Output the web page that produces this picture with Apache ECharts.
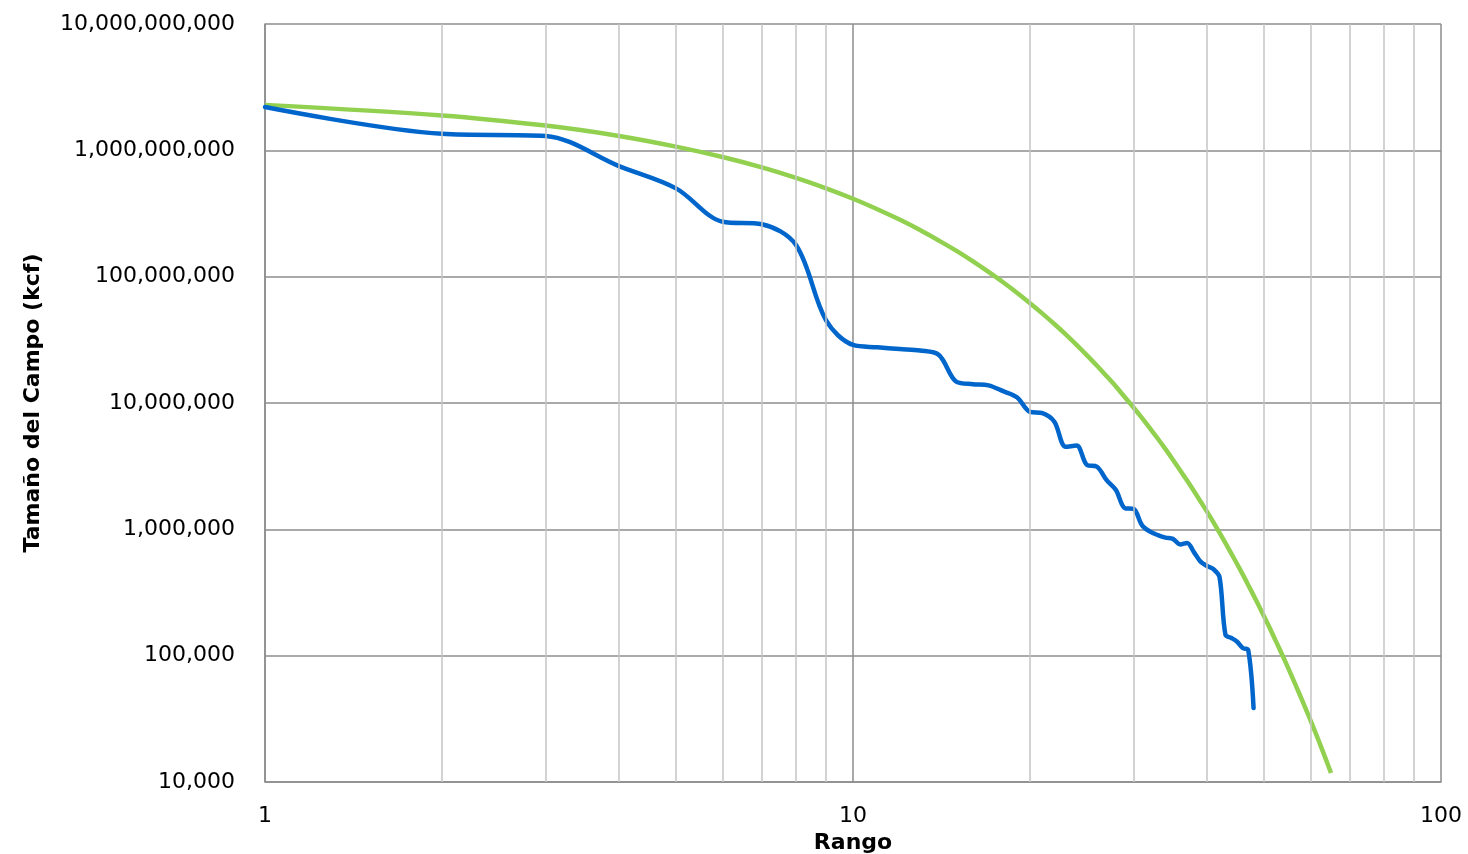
<!DOCTYPE html>
<html>
<head>
<meta charset="utf-8">
<script src="https://cdn.jsdelivr.net/npm/echarts@6/dist/echarts.min.js"></script>
<style>
html,body{margin:0;padding:0;background:#fff;}
#chart{width:1468px;height:854px;}
</style>
</head>
<body>
<div id="chart"></div>
<script>
// Observed field sizes (kcf) by rank
const observedRanks = [1,2,3,4,5,6,7,8,9,10,11,12,13,14,15,16,17,18,19,20,21,22,23,24,25,26,27,28,29,30,31,32,33,34,35,36,37,38,39,40,41,42,43,44,45,46,47,48];
const observedSizes = [2.2e9,1.35e9,1.3e9,7.5e8,5.0e8,2.72e8,2.6e8,1.78e8,4.5e7,2.88e7,2.76e7,2.67e7,2.6e7,2.4e7,1.47e7,1.41e7,1.38e7,1.24e7,1.11e7,8.5e6,8.3e6,7.1e6,4.5e6,4.6e6,3.23e6,3.13e6,2.45e6,2.05e6,1.47e6,1.45e6,1.08e6,9.6e5,9.0e5,8.6e5,8.4e5,7.6e5,7.8e5,6.6e5,5.55e5,5.13e5,4.85e5,4.2e5,1.46e5,1.38e5,1.29e5,1.15e5,1.11e5,3.85e4];

// Fitted curve (kcf) by rank
const fitRanks = [1,2,3,4,5,6,7,8,9,10,11,12,13,14,15,16,17,18,19,20,21,22,23,24,25,26,27,28,29,30,31,32,33,34,35,36,37,38,39,40,41,42,43,44,45,46,47,48,49,50,51,52,53,54,55,56,57,58,59,60,61,62,63,64,65];
const fitSizes = [2.29e9,1.89e9,1.57e9,1.30e9,1.07e9,8.85e8,7.32e8,6.05e8,5.00e8,4.14e8,3.42e8,2.83e8,2.34e8,1.93e8,1.60e8,1.32e8,1.09e8,9.03e7,7.47e7,6.17e7,5.10e7,4.22e7,3.49e7,2.88e7,2.38e7,1.97e7,1.63e7,1.35e7,1.11e7,9.22e6,7.62e6,6.30e6,5.21e6,4.31e6,3.56e6,2.94e6,2.43e6,2.01e6,1.66e6,1.38e6,1.14e6,9.41e5,7.78e5,6.43e5,5.32e5,4.40e5,3.63e5,3.00e5,2.48e5,2.05e5,1.70e5,1.40e5,1.16e5,9.60e4,7.94e4,6.56e4,5.42e4,4.48e4,3.71e4,3.07e4,2.54e4,2.10e4,1.73e4,1.43e4,1.18e4];

// Minor vertical gridline positions on the rank axis
const minorRankLines = [2,3,4,5,6,7,8,9,20,30,40,50,60,70,80,90];

const xAxisName = 'Rango';
const yAxisName = 'Tamaño del Campo (kcf)';

const FONT = 'DejaVu Sans';
const chart = echarts.init(document.getElementById('chart'), null, {renderer:'canvas'});

const observedData = observedRanks.map((r,i)=>[r, observedSizes[i]]);
const fitData = fitRanks.map((r,i)=>[r, fitSizes[i]]);

chart.setOption({
  animation: false,
  backgroundColor: '#ffffff',
  grid: {left: 265, right: 27, top: 24, bottom: 72, containLabel: false, outerBoundsMode: 'none'},
  xAxis: {
    type: 'log', logBase: 10, min: 1, max: 100,
    name: xAxisName, nameLocation: 'middle', nameGap: 45,
    nameTextStyle: {fontFamily: FONT, fontWeight: 'bold', fontSize: 22, color: '#000'},
    axisLine: {show: true, lineStyle: {color: '#8c8c8c', width: 1.5}},
    axisTick: {show: false},
    axisLabel: {fontFamily: FONT, fontSize: 22, color: '#000', margin: 23,
      formatter: v => String(Math.round(v))},
    splitLine: {show: true, lineStyle: {color: '#8c8c8c', width: 1.5}},
    minorTick: {show: false}, minorSplitLine: {show: false}
  },
  yAxis: {
    type: 'log', logBase: 10, min: 1e4, max: 1e10,
    name: yAxisName, nameLocation: 'middle', nameGap: 221, nameRotate: 90,
    nameTextStyle: {fontFamily: FONT, fontWeight: 'bold', fontSize: 22, color: '#000'},
    axisLine: {show: true, lineStyle: {color: '#8c8c8c', width: 1.5}},
    axisTick: {show: false},
    axisLabel: {fontFamily: FONT, fontSize: 22, color: '#000', margin: 30,
      formatter: v => Math.round(v).toLocaleString('en-US')},
    splitLine: {show: true, lineStyle: {color: '#8c8c8c', width: 1.5}}
  },
  series: [
    {
      type: 'line', data: [], z: 1, silent: true,
      markLine: {
        silent: true, symbol: ['none','none'], animation: false,
        label: {show: false},
        lineStyle: {color: '#c4c4c4', width: 1.5, type: 'solid'},
        emphasis: {disabled: true},
        data: minorRankLines.map(v => ({xAxis: v}))
      }
    },
    {
      name: 'Observado', type: 'line', data: observedData, z: 3,
      smooth: 0.33, showSymbol: false, symbol: 'none',
      lineStyle: {color: '#0066CC', width: 4.5, cap: 'round', join: 'round'},
      emphasis: {disabled: true}
    },
    {
      name: 'Ajuste', type: 'line', data: fitData, z: 2,
      smooth: 0.33, showSymbol: false, symbol: 'none',
      lineStyle: {color: '#92D050', width: 4.5, cap: 'butt', join: 'round'},
      emphasis: {disabled: true}
    }
  ]
});
</script>
</body>
</html>
